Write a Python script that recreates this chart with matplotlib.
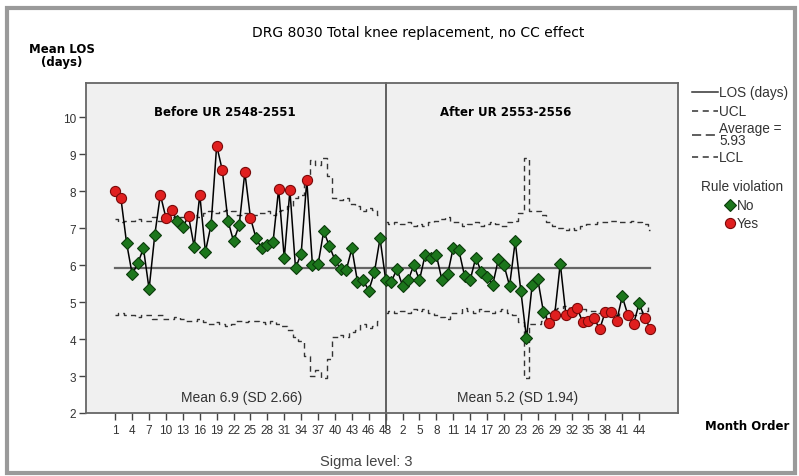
import matplotlib.pyplot as plt
from matplotlib.lines import Line2D
from matplotlib.patches import Rectangle
import numpy as np

# mean LOS per month, before and after the UR change
los_before = [8.00, 7.80, 6.60, 5.75, 6.05, 6.45, 5.35, 6.80, 7.90, 7.27,
              7.50, 7.18, 7.03, 7.32, 6.50, 7.90, 6.36, 7.08, 9.23, 8.56,
              7.20, 6.64, 7.08, 8.51, 7.27, 6.72, 6.45, 6.55, 6.61, 8.06,
              6.18, 8.02, 5.91, 6.31, 8.29, 6.00, 6.02, 6.91, 6.52, 6.13,
              5.89, 5.86, 6.45, 5.55, 5.59, 5.31, 5.80, 6.72]
los_after = [5.60, 5.55, 5.89, 5.44, 5.59, 6.00, 5.59, 6.27, 6.20, 6.27,
             5.59, 5.75, 6.47, 6.40, 5.71, 5.59, 6.20, 5.80, 5.68, 5.46,
             6.15, 6.00, 5.44, 6.64, 5.30, 4.02, 5.45, 5.62, 4.74, 4.43,
             4.65, 6.04, 4.65, 4.72, 4.83, 4.45, 4.49, 4.56, 4.27, 4.74,
             4.74, 4.49, 5.15, 4.65, 4.40, 4.96, 4.58, 4.27]

# rule violation flag (1 = yes)
viol_before = [1, 1, 0, 0, 0, 0, 0, 0, 1, 1, 1, 0, 0, 1, 0, 1, 0, 0, 1, 1,
               0, 0, 0, 1, 1, 0, 0, 0, 0, 1, 0, 1, 0, 0, 1, 0, 0, 0, 0, 0,
               0, 0, 0, 0, 0, 0, 0, 0]
viol_after = [0, 0, 0, 0, 0, 0, 0, 0, 0, 0, 0, 0, 0, 0, 0, 0, 0, 0, 0, 0,
              0, 0, 0, 0, 0, 0, 0, 0, 0, 1, 1, 0, 1, 1, 1, 1, 1, 1, 1, 1,
              1, 1, 0, 1, 1, 0, 1, 1]

ucl_before = [7.25, 7.15, 7.20, 7.20, 7.25, 7.20, 7.20, 7.30, 7.20, 7.30,
              7.30, 7.25, 7.30, 7.35, 7.35, 7.30, 7.40, 7.45, 7.40, 7.45,
              7.50, 7.45, 7.35, 7.40, 7.35, 7.35, 7.40, 7.45, 7.35, 7.45,
              7.50, 7.60, 7.80, 7.90, 8.30, 8.85, 8.70, 8.90, 8.40, 7.80,
              7.75, 7.80, 7.65, 7.60, 7.45, 7.55, 7.50, 7.35]
lcl_before = [4.65, 4.70, 4.65, 4.65, 4.60, 4.65, 4.65, 4.55, 4.65, 4.55,
              4.55, 4.60, 4.55, 4.50, 4.50, 4.55, 4.45, 4.40, 4.45, 4.40,
              4.35, 4.40, 4.50, 4.45, 4.50, 4.50, 4.45, 4.40, 4.50, 4.40,
              4.35, 4.25, 4.05, 3.95, 3.55, 3.00, 3.15, 2.95, 3.45, 4.05,
              4.10, 4.05, 4.20, 4.25, 4.40, 4.30, 4.35, 4.50]
ucl_after = [7.15, 7.10, 7.15, 7.10, 7.15, 7.05, 7.10, 7.05, 7.15, 7.20,
             7.25, 7.30, 7.15, 7.15, 7.05, 7.10, 7.15, 7.05, 7.10, 7.15,
             7.10, 7.05, 7.15, 7.20, 7.40, 8.90, 7.45, 7.45, 7.35, 7.15,
             7.05, 7.00, 6.95, 7.00, 6.95, 7.05, 7.10, 7.10, 7.15, 7.15,
             7.20, 7.20, 7.15, 7.15, 7.20, 7.15, 7.10, 6.95]
lcl_after = [4.70, 4.75, 4.70, 4.75, 4.70, 4.80, 4.75, 4.80, 4.70, 4.65,
             4.60, 4.55, 4.70, 4.70, 4.85, 4.75, 4.70, 4.80, 4.75, 4.70,
             4.75, 4.80, 4.70, 4.65, 4.45, 2.95, 4.40, 4.40, 4.50, 4.70,
             4.80, 4.85, 4.90, 4.85, 4.90, 4.80, 4.75, 4.75, 4.70, 4.70,
             4.65, 4.65, 4.70, 4.70, 4.65, 4.70, 4.75, 4.90]
average = 5.93

tick_labels = ['1', '4', '7', '10', '13', '16', '19', '22', '25', '28', '31',
               '34', '37', '40', '43', '46', '48',
               '2', '5', '8', '11', '14', '17', '20', '23', '26', '29', '32',
               '35', '38', '41', '44']

nb = len(los_before)
na = len(los_after)
x_b = np.arange(nb)
x_a = np.arange(nb, nb + na)
x_all = np.arange(nb + na)
los_all = np.array(los_before + los_after)
viol_all = np.array(viol_before + viol_after)
tick_pos = list(range(0, 46, 3)) + [48] + list(range(51, 94, 3))

W, H = 799, 477
fig = plt.figure(figsize=(W / 100, H / 100), dpi=100)


def fx(x):
    return x / W


def fy(y):
    return 1 - y / H


# outer frame
fig.add_artist(Rectangle((fx(7), fy(474)), fx(795) - fx(7), fy(9) - fy(474),
                         transform=fig.transFigure, fill=False,
                         ec='#9a9a9a', lw=3))

ax = fig.add_axes([fx(86), fy(414), fx(678) - fx(86), fy(84) - fy(414)])
ax.set_facecolor('#f0f0f0')
ax.set_xlim(-5.2, 99.9)
ax.set_ylim(2, 10.92)

dash = (0, (4, 3))
ax.plot(x_b, ucl_before, color='#333333', lw=1, ls=dash, drawstyle='steps-mid')
ax.plot(x_b, lcl_before, color='#333333', lw=1, ls=dash, drawstyle='steps-mid')
ax.plot(x_a, ucl_after, color='#333333', lw=1, ls=dash, drawstyle='steps-mid')
ax.plot(x_a, lcl_after, color='#333333', lw=1, ls=dash, drawstyle='steps-mid')
ax.plot([x_all[0], x_all[-1]], [average, average], color='#666666', lw=1.6)
ax.axvline(48, ymin=-0.045, ymax=1, color='#555555', lw=1.3, clip_on=False)

ax.plot(x_all, los_all, color='black', lw=1.1)
no = viol_all == 0
ax.plot(x_all[no], los_all[no], ls='none', marker='D', ms=6,
        mfc='#1c761c', mec='#0b3b0b', mew=0.8)
ax.plot(x_all[~no], los_all[~no], ls='none', marker='o', ms=7.3,
        mfc='#e01f1f', mec='#7a0a0a', mew=0.8)

for s in ax.spines.values():
    s.set_color('#666666')
    s.set_linewidth(1.3)

ax.set_yticks(range(2, 11))
ax.set_xticks(tick_pos, tick_labels)
ax.tick_params(axis='both', direction='out', color='#444444', width=1,
               labelcolor='#333333')
ax.tick_params(axis='x', length=5, pad=3, labelsize=8.5)
ax.tick_params(axis='y', length=5, pad=2, labelsize=8.5)
for t in ax.get_xticklabels() + ax.get_yticklabels():
    t.set_family('Liberation Sans')

fig.text(fx(418), fy(33), 'DRG 8030 Total knee replacement, no CC effect',
         ha='center', va='center', fontsize=10, family='DejaVu Sans')
fig.text(fx(62), fy(56), 'Mean LOS\n(days)', ha='center', va='center',
         fontsize=8.5, weight='bold', linespacing=1.0, family='DejaVu Sans')
fig.text(fx(225), fy(112), 'Before UR 2548-2551', ha='center', va='center',
         fontsize=8.5, weight='bold', family='DejaVu Sans')
fig.text(fx(506), fy(112), 'After UR 2553-2556', ha='center', va='center',
         fontsize=8.5, weight='bold', family='DejaVu Sans')
fig.text(fx(242), fy(398), 'Mean 6.9 (SD 2.66)', ha='center', va='center',
         fontsize=10, color='#333333', family='Liberation Sans')
fig.text(fx(518), fy(398), 'Mean 5.2 (SD 1.94)', ha='center', va='center',
         fontsize=10, color='#333333', family='Liberation Sans')
fig.text(fx(747), fy(427), 'Month Order', ha='center', va='center',
         fontsize=8.5, weight='bold', family='DejaVu Sans')
fig.text(fx(366), fy(462), 'Sigma level: 3', ha='center', va='center',
         fontsize=10.5, color='#444444', family='Liberation Sans')

# legend
lk = dict(transform=fig.transFigure, color='#333333', lw=1.1)
fig.add_artist(Line2D([fx(692), fx(718)], [fy(93), fy(93)], **lk))
fig.add_artist(Line2D([fx(692), fx(718)], [fy(112), fy(112)], ls=dash, **lk))
fig.add_artist(Line2D([fx(692), fx(718)], [fy(136), fy(136)], ls=(0, (6, 3)), **lk))
fig.add_artist(Line2D([fx(692), fx(718)], [fy(158), fy(158)], ls=dash, **lk))
tk = dict(ha='left', va='center', fontsize=9.8, color='#333333',
          family='Liberation Sans')
fig.text(fx(719), fy(93), 'LOS (days)', **tk)
fig.text(fx(719), fy(112), 'UCL', **tk)
fig.text(fx(719), fy(135), 'Average =\n5.93', linespacing=0.9, **tk)
fig.text(fx(719), fy(158), 'LCL', **tk)
fig.text(fx(742), fy(187), 'Rule violation', ha='center', va='center',
         fontsize=9.8, color='#333333', family='Liberation Sans')
fig.add_artist(Line2D([fx(730)], [fy(206)], transform=fig.transFigure,
                      ls='none', marker='D', ms=6, mfc='#1c761c',
                      mec='#0b3b0b', mew=0.8))
fig.add_artist(Line2D([fx(730)], [fy(224)], transform=fig.transFigure,
                      ls='none', marker='o', ms=7.3, mfc='#e01f1f',
                      mec='#7a0a0a', mew=0.8))
fig.text(fx(737), fy(206), 'No', **tk)
fig.text(fx(737), fy(224), 'Yes', **tk)

fig.savefig('out.png', dpi=100)
